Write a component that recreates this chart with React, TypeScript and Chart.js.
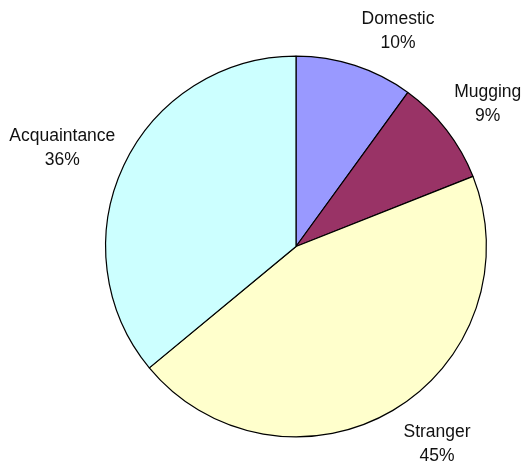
import React, { useEffect, useRef } from "react";
import { Chart, registerables } from "chart.js";

Chart.register(...registerables);

const categories = ["Domestic", "Mugging", "Stranger", "Acquaintance"];
const shares = [10, 9, 45, 36];
const sliceColors = ["#9999FF", "#993366", "#FFFFCC", "#CCFFFF"];

// Outside labels: "Name\nNN%" placed just beyond each slice's rim,
// with a small per-label shift to keep them clear of neighbours.
const outsideLabels = {
  id: "outsideLabels",
  afterDatasetsDraw(chart: any, _args: any, opts: any) {
    const { ctx } = chart;
    const meta = chart.getDatasetMeta(0);
    const labels = chart.data.labels as string[];
    const values = chart.data.datasets[0].data as number[];
    const total = values.reduce((a, b) => a + b, 0);
    const shifts: [number, number][] = opts.shifts || [];
    ctx.save();
    ctx.font = opts.font;
    ctx.fillStyle = opts.color;
    ctx.textAlign = "center";
    ctx.textBaseline = "middle";
    meta.data.forEach((arc: any, i: number) => {
      const p = arc.getProps(["x", "y", "startAngle", "endAngle", "outerRadius"], true);
      const mid = (p.startAngle + p.endAngle) / 2;
      const cx = Math.cos(mid);
      const cy = Math.sin(mid);
      const line1 = labels[i];
      const line2 = Math.round((values[i] / total) * 100) + "%";
      const w = Math.max(ctx.measureText(line1).width, ctx.measureText(line2).width);
      const h = opts.lineGap + 20;
      const ax = p.x + cx * (p.outerRadius + opts.gap);
      const ay = p.y + cy * (p.outerRadius + opts.gap);
      const [sx, sy] = shifts[i] || [0, 0];
      const bx = ax + (cx * w) / 2 + sx;
      const by = ay + (cy * h) / 2 + sy;
      ctx.fillText(line1, bx, by - opts.lineGap / 2);
      ctx.fillText(line2, bx, by + opts.lineGap / 2);
    });
    ctx.restore();
  },
};

export default function App() {
  const canvasRef = useRef<HTMLCanvasElement | null>(null);

  useEffect(() => {
    if (!canvasRef.current) return;
    const chart = new Chart(canvasRef.current, {
      type: "pie",
      data: {
        labels: categories,
        datasets: [
          {
            data: shares,
            backgroundColor: sliceColors,
            borderColor: "#000000",
            borderWidth: 1.2,
          },
        ],
      },
      options: {
        animation: false,
        responsive: false,
        maintainAspectRatio: false,
        layout: { padding: { left: 105, right: 39, top: 54, bottom: 28 } },
        plugins: {
          legend: { display: false },
          tooltip: { enabled: false },
          outsideLabels: {
            font: "17.5px 'Liberation Sans', Arial, sans-serif",
            color: "#111111",
            gap: 6,
            lineGap: 24,
            shifts: [
              [30, -8],
              [10, -8],
              [24, 10],
              [-8, -5],
            ],
          },
        } as any,
      },
      plugins: [outsideLabels],
    });
    return () => chart.destroy();
  }, []);

  return (
    <div style={{ position: "fixed", left: 0, top: 0, width: 526, height: 467, background: "#ffffff" }}>
      <canvas ref={canvasRef} width={526} height={467} style={{ display: "block" }} />
    </div>
  );
}
